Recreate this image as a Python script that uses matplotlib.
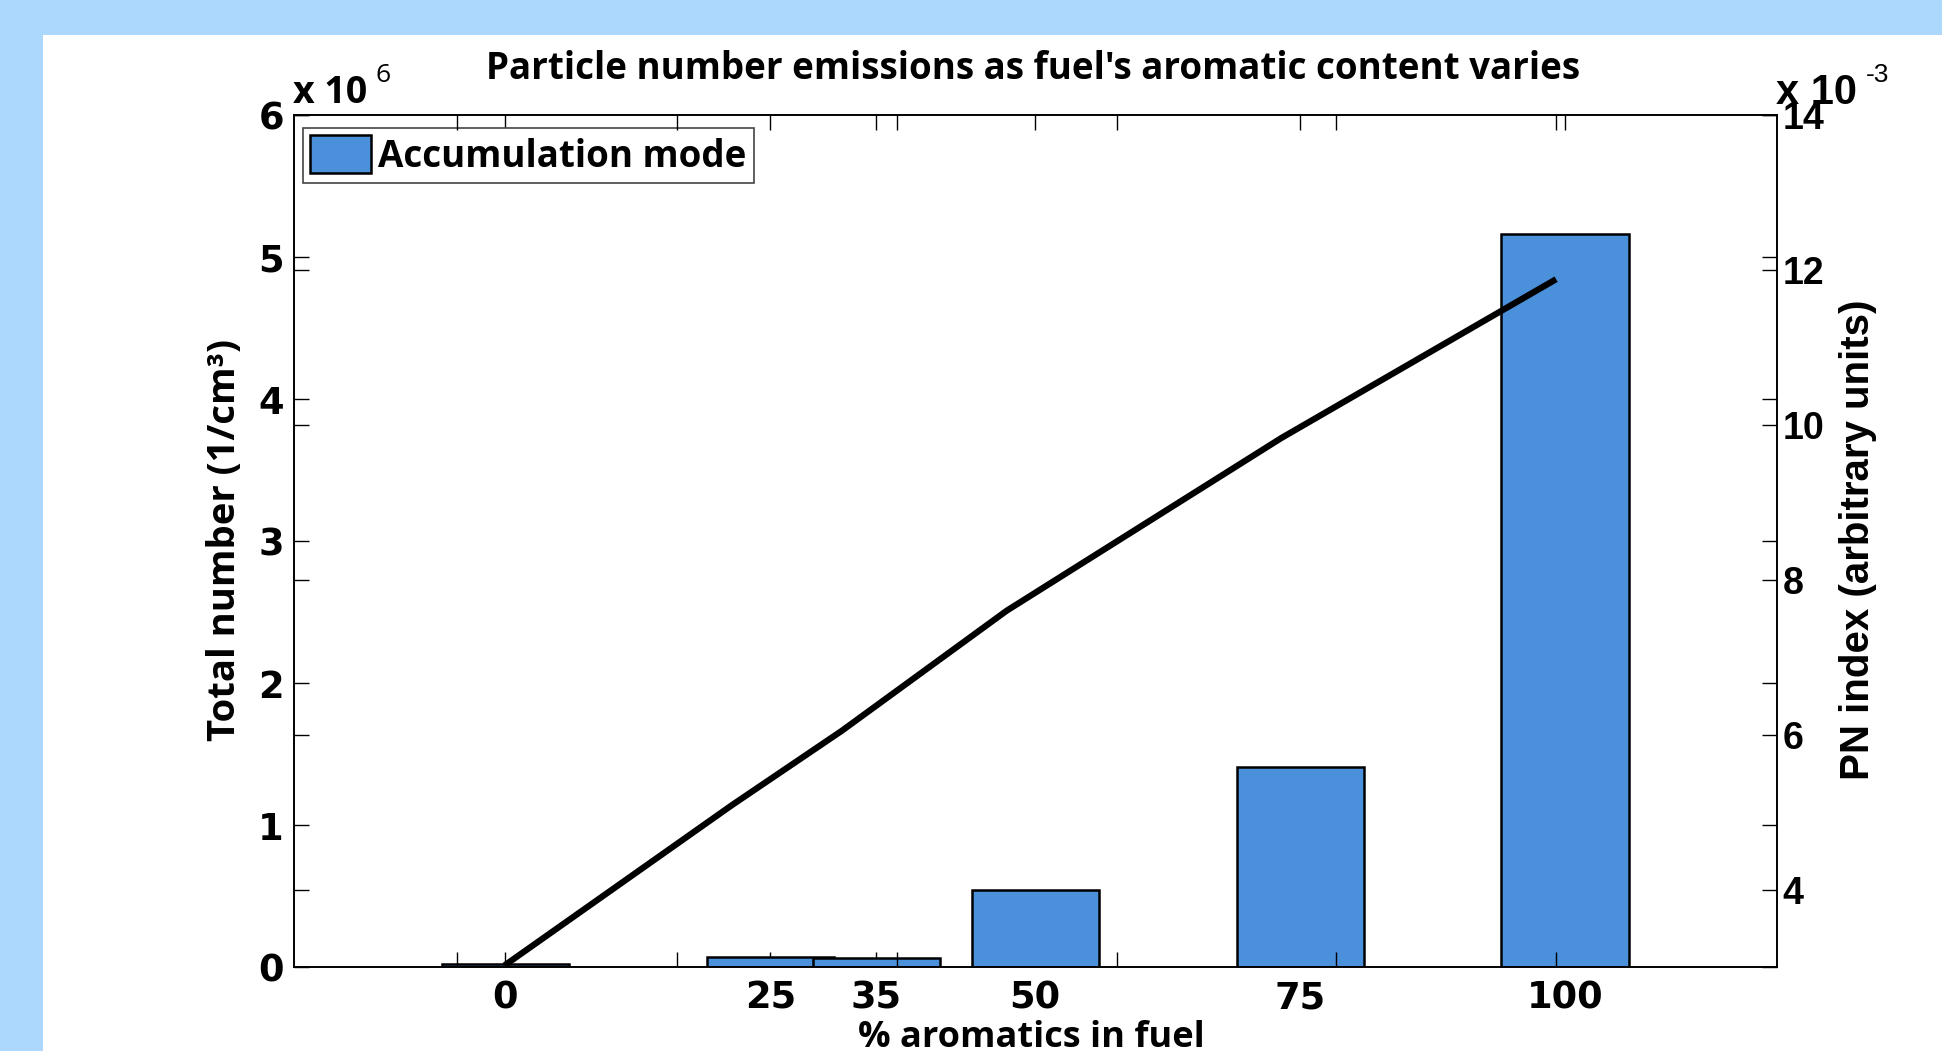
import matplotlib
matplotlib.use("Agg")
import matplotlib.pyplot as plt
from matplotlib.patches import Rectangle, Patch

# data
aromatics = [0, 25, 35, 50, 75, 100]          # % aromatics in fuel (bar positions)
tick_labels = ["0", "25", "35", "50", "75", "100"]
accum_mode = [0.02, 0.07, 0.06, 0.54, 1.41, 5.16]   # total number, x 10^6 1/cm3
pn_x = [4.3, 25, 35, 50, 75, 100]                  # line x (its own plotyy axis)
pn_index = [3.02, 5.09, 6.05, 7.60, 9.83, 11.88]   # PN index, x 10^-3

W, H = 1942, 1051
BAR_BLUE = "#4a90db"
BG_BLUE = "#add8fe"
MAIN = "Open Sans"
TICKF = "DejaVu Sans"
SIDE = ["Liberation Sans Narrow", "Liberation Sans", "DejaVu Sans"]

fig = plt.figure(figsize=(W / 100, H / 100), dpi=100, facecolor=BG_BLUE)
fig.patches.append(Rectangle((43 / W, 0), 1, (H - 35) / H, transform=fig.transFigure,
                             facecolor="white", edgecolor="none", zorder=-1))

def px(x, y):
    return x / W, 1 - y / H

left, right, top, bottom = 293.5, 1777, 115, 967
rect = [left / W, 1 - bottom / H, (right - left) / W, (bottom - top) / H]

# bar axes
ax = fig.add_axes(rect)
ax.set_facecolor("white")
ax.bar(aromatics, accum_mode, width=12, color=BAR_BLUE, edgecolor="black", linewidth=1.8,
       label="Accumulation mode")
ax.set_xlim(-20, 120)
ax.set_ylim(0, 6)
ax.set_xticks(aromatics)
ax.set_xticklabels(tick_labels)
ax.set_yticks(range(7))
ax.set_axisbelow(True)
ax.tick_params(direction="in", length=11, width=1.0, top=True, right=True,
               labelsize=26.5, pad=9)
ax.tick_params(axis="y", pad=7)
for lab in ax.get_xticklabels() + ax.get_yticklabels():
    lab.set_fontfamily(TICKF)
    lab.set_fontweight("bold")
for s in ax.spines.values():
    s.set_linewidth(1.2)

leg = ax.legend(handles=[Patch(facecolor=BAR_BLUE, edgecolor="black", linewidth=1.8,
                               label="Accumulation mode")],
                loc="upper left", bbox_to_anchor=px(303, 128), bbox_transform=fig.transFigure,
                borderaxespad=0, borderpad=0.2, handlelength=1.65, handleheight=1.2,
                handletextpad=0.2, fancybox=False, framealpha=1,
                prop={"family": MAIN, "weight": "bold", "size": 26.5})
leg.get_frame().set_edgecolor("#444444")
leg.get_frame().set_linewidth(1.2)

# line axes (plotyy second axes, its own x range)
ax2 = fig.add_axes(rect)
ax2.patch.set_visible(False)
ax2.plot(pn_x, pn_index, color="black", linewidth=4.5, solid_capstyle="butt")
ax2.set_xlim(-14.9, 120.1)
ax2.set_ylim(3, 14)
ax2.set_xticks(range(0, 101, 20))
ax2.set_yticks(range(4, 15, 2))
ax2.tick_params(direction="in", length=11, width=1.0, top=True, bottom=True,
                left=True, right=True, labelbottom=False, labelleft=False,
                labelright=True, labelsize=27, pad=4)
for lab in ax2.get_yticklabels():
    lab.set_fontfamily("Liberation Sans")
    lab.set_fontweight("bold")
for s in ax2.spines.values():
    s.set_linewidth(1.2)

# texts
fig.text(*px(1033, 69), "Particle number emissions as fuel's aromatic content varies",
         ha="center", va="center", fontsize=26.5, fontweight="bold", family=MAIN)
fig.text(*px(1031, 1038), "% aromatics in fuel", ha="center", va="center",
         fontsize=26, fontweight="bold", family=MAIN)
fig.text(*px(225, 540), "Total number (1/cm³)", ha="center", va="center", rotation=90,
         fontsize=27.5, fontweight="bold", family=MAIN)
fig.text(*px(1858, 540), "PN index (arbitrary units)", ha="center", va="center",
         rotation=90, fontsize=29, fontweight="bold", family=SIDE)
fig.text(*px(293, 103), "x 10", ha="left", va="baseline", fontsize=27,
         fontweight="bold", family=MAIN)
fig.text(*px(375, 82), "6", ha="left", va="baseline", fontsize=19, family=MAIN)
fig.text(*px(1776, 104), "x 10", ha="left", va="baseline", fontsize=30,
         fontweight="bold", family="Liberation Sans")
fig.text(*px(1866, 82), "-3", ha="left", va="baseline", fontsize=19,
         family="Liberation Sans")

fig.savefig("out.png", dpi=100, facecolor=fig.get_facecolor())
